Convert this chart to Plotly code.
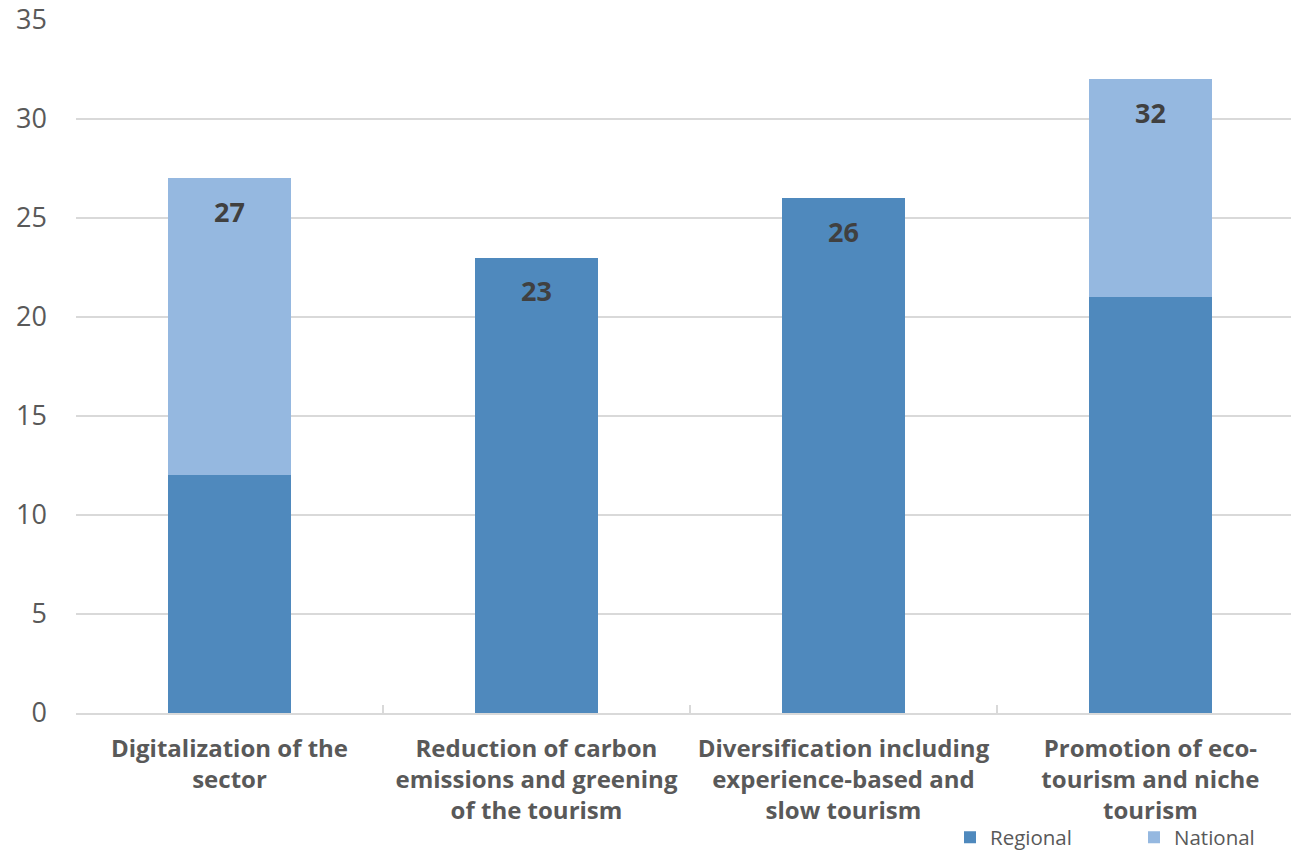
import plotly.graph_objects as go

categories = [
    "Digitalization of the<br>sector",
    "Reduction of carbon<br>emissions and greening<br>of the tourism",
    "Diversification including<br>experience-based and<br>slow tourism",
    "Promotion of eco-<br>tourism and niche<br>tourism",
]
regional = [12, 23, 26, 21]
national = [15, 0, 0, 11]
totals = [r + n for r, n in zip(regional, national)]

REGIONAL_COLOR = "#4F89BD"
NATIONAL_COLOR = "#95B8E0"
GRID = "#D9D9D9"
TEXT = "#595959"

fig = go.Figure()
fig.add_trace(go.Bar(x=categories, y=regional, name="Regional",
                     marker=dict(color=REGIONAL_COLOR, line=dict(width=0)),
                     width=0.4, showlegend=False))
fig.add_trace(go.Bar(x=categories, y=national, name="National",
                     marker=dict(color=NATIONAL_COLOR, line=dict(width=0)),
                     width=0.4, showlegend=False))

# legend keys with square swatches, one legend box per series
for name, color, leg in [("Regional", REGIONAL_COLOR, "legend"),
                         ("National", NATIONAL_COLOR, "legend2")]:
    fig.add_trace(go.Scatter(x=[None], y=[None], mode="markers", name=name,
                             marker=dict(symbol="square", size=14, color=color),
                             legend=leg, hoverinfo="skip"))

# total labels just inside the top of each stack
for cat, tot in zip(categories, totals):
    fig.add_annotation(x=cat, y=tot, text=f"<b>{tot}</b>", showarrow=False,
                       yanchor="middle", yshift=-33,
                       font=dict(family="Open Sans", size=27, color="#404040"))

legend_common = dict(orientation="h", yref="container", yanchor="top", y=0.0395,
                     xanchor="left",
                     font=dict(size=20.5, color=TEXT, family="Open Sans"),
                     itemsizing="constant", itemwidth=30, bgcolor="rgba(0,0,0,0)")

fig.update_layout(
    barmode="stack",
    width=1291, height=851,
    margin=dict(l=76, r=0, t=20, b=138),
    plot_bgcolor="white", paper_bgcolor="white",
    font=dict(family="Open Sans", color=TEXT),
    showlegend=True,
    legend=dict(x=(950 - 76) / 1215, **legend_common),
    legend2=dict(x=(1134 - 76) / 1215, **legend_common),
)
fig.update_xaxes(
    type="category", range=[-0.5, 3.458], automargin=False, tickangle=0,
    showline=True, linecolor=GRID, linewidth=2,
    ticks="inside", tickson="boundaries", ticklen=8, tickcolor=GRID, tickwidth=2,
    tickfont=dict(size=24, color=TEXT, family="Open Sans", weight="bold"),
    ticklabelstandoff=13,
    showgrid=False,
)
fig.update_yaxes(
    range=[0, 35], dtick=5, showgrid=True, gridcolor=GRID, gridwidth=1.5,
    zeroline=False, showline=False, ticks="", automargin=False,
    tickfont=dict(size=27, color=TEXT, family="Open Sans"),
    ticklabelstandoff=28,
)

fig.write_html("out.html")
